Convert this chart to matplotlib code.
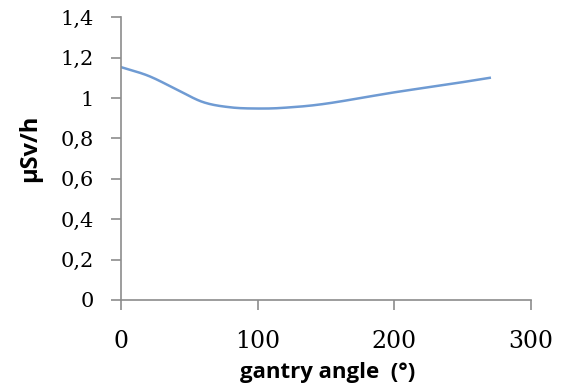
import numpy as np
import matplotlib.pyplot as plt

# dose rate vs gantry angle
angle = [0, 20, 40, 60, 80, 100, 120, 150, 200, 240, 270]
dose = [1.153, 1.110, 1.045, 0.980, 0.954, 0.948, 0.952, 0.972, 1.028, 1.068, 1.10]

xticks = [0, 100, 200, 300]
yticks = [0, 0.2, 0.4, 0.6, 0.8, 1.0, 1.2, 1.4]
ytick_labels = ['0', '0,2', '0,4', '0,6', '0,8', '1', '1,2', '1,4']


def catmull(x, y, n=30):
    # smooth curve through the points, like the spreadsheet's curved line
    px, py = [], []
    x = np.array(x, float); y = np.array(y, float)
    xe = np.r_[2*x[0] - x[1], x, 2*x[-1] - x[-2]]
    ye = np.r_[2*y[0] - y[1], y, 2*y[-1] - y[-2]]
    t = np.linspace(0, 1, n, endpoint=False)
    for i in range(1, len(xe) - 2):
        for arr, out in ((xe, px), (ye, py)):
            p0, p1, p2, p3 = arr[i-1], arr[i], arr[i+1], arr[i+2]
            out.extend(0.5 * ((2*p1) + (-p0 + p2)*t + (2*p0 - 5*p1 + 4*p2 - p3)*t**2
                              + (-p0 + 3*p1 - 3*p2 + p3)*t**3))
    px.append(x[-1]); py.append(y[-1])
    return px, py


sx, sy = catmull(angle, dose)

fig = plt.figure(figsize=(5.69, 3.9), dpi=100)
ax = fig.add_axes([0.2127, 0.2308, 0.72, 0.725])

ax.plot(sx, sy, color='#6f9bd3', lw=1.8)

ax.set_xlim(0, 300)
ax.set_ylim(0, 1.4)
ax.set_xticks(xticks)
ax.set_xticklabels([str(v) for v in xticks])
ax.set_yticks(yticks)
ax.set_yticklabels(ytick_labels)

for s in ['top', 'right']:
    ax.spines[s].set_visible(False)
for s in ['left', 'bottom']:
    ax.spines[s].set_color('#8c8c8c')
    ax.spines[s].set_linewidth(1.2)
ax.tick_params(axis='both', colors='#8c8c8c', length=7.5, width=1.2, labelcolor='black')
ax.tick_params(axis='x', pad=14, labelsize=17)
ax.tick_params(axis='y', pad=12, labelsize=15)
for lab in ax.get_xticklabels() + ax.get_yticklabels():
    lab.set_family('DejaVu Serif')

ax.set_xlabel('gantry angle  (°)', fontsize=16, fontweight='bold',
              family='Open Sans', va='center')
ax.xaxis.set_label_coords(0.505, -0.255)
ax.set_ylabel('μSv/h', fontsize=17, fontweight='bold', family='Open Sans',
              va='center')
ax.yaxis.set_label_coords(-0.222, 0.538)

fig.savefig('out.png', dpi=100)
